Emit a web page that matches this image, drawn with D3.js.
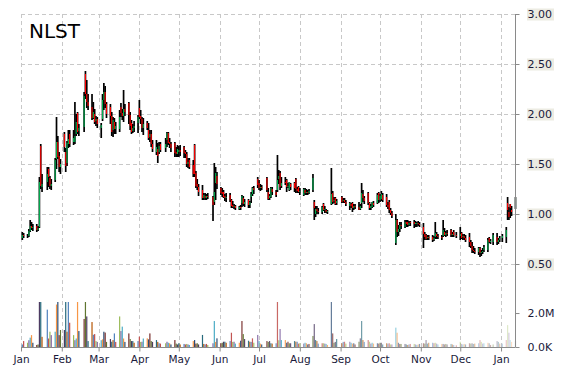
<!DOCTYPE html>
<html><head><meta charset="utf-8">
<script src="https://cdn.jsdelivr.net/npm/d3@7"></script>
<style>html,body{margin:0;padding:0;background:#fff}svg{display:block}</style>
</head><body>
<svg id="chart" width="570" height="370"></svg>
<script>
// ---------------- DATA ----------------
const title = "NLST";
const firstDay = "2014-01-02", lastDay = "2015-01-12";
const holidays = ["2014-01-01","2014-01-20","2014-02-17","2014-04-18","2014-05-26","2014-07-04","2014-09-01","2014-11-27","2014-12-25","2015-01-01"];
const monthLabels = ["Jan","Feb","Mar","Apr","May","Jun","Jul","Aug","Sep","Oct","Nov","Dec","Jan"];
const priceTicks = [0.5, 1.0, 1.5, 2.0, 2.5, 3.0];
const volumeTicks = [0, 2000000];

const opens = [
 .76,.79,.78,.78,.83,.88,.86,.88,.84,.87,1.68,1.27,1.32,1.45,1.36,1.28,1.34,1.55,1.72,1.58,1.47,
 1.80,1.62,1.51,1.70,1.80,1.72,1.72,1.80,2.01,1.83,1.87,2.40,2.20,2.12,2.07,1.96,2.00,1.93,1.95,
 1.86,1.95,2.14,2.22,2.10,2.07,1.98,1.84,1.92,1.85,1.85,2.07,2.01,1.98,2.05,2.11,1.99,1.91,1.83,1.86,1.91,
 2.06,1.98,1.95,1.86,1.91,1.84,1.77,1.80,1.70,1.62,1.65,1.62,1.70,1.66,1.74,1.81,1.72,1.70,1.71,1.62,1.60,
 1.62,1.64,1.67,1.62,1.60,1.50,1.54,1.49,1.69,1.41,1.30,1.27,1.24,1.16,1.18,1.16,1.18,1.17,1.12,1.31,1.38,
 1.26,1.22,1.22,1.18,1.16,1.19,1.14,1.09,1.07,1.08,1.05,1.07,1.11,1.16,1.10,1.14,1.09,1.17,1.20,1.26,1.35,
 1.31,1.26,1.27,1.36,1.22,1.16,1.17,1.25,1.22,1.24,1.35,1.41,1.28,1.32,1.34,1.27,1.24,1.30,1.31,1.35,1.25,1.27,
 1.22,1.19,1.24,1.21,1.22,1.21,1.24,1.12,1.00,1.05,1.03,1.02,1.10,1.04,1.04,1.02,1.10,1.21,1.13,1.16,1.11,
 1.17,1.13,1.14,1.12,1.08,1.10,1.11,1.06,1.08,1.07,1.05,1.11,1.20,1.16,1.21,1.11,1.06,1.07,1.11,1.11,1.21,
 1.14,1.15,1.19,1.17,1.09,1.12,1.04,1.01,.71,.94,.82,.85,.89,.87,.92,.92,.89,.92,.92,.90,.90,.91,.90,
 .87,.80,.79,.76,.77,.77,.74,.77,.80,.78,.77,.78,.82,.79,.81,.84,.79,.82,.79,
 .78,.81,.77,.78,.76,.77,.72,.68,.64,.63,.62,.66,.61,.62,.64,.64,.76,.72,.72,.77,.72,.74,
 .76,.77,1.11,1.02,1.10,1.04,1.06
];
const highs = [
 .82,.81,.80,.85,.94,.92,.90,.90,.88,1.37,1.70,1.40,1.47,1.47,1.38,1.35,1.56,1.97,1.78,1.62,1.55,
 1.82,1.66,1.73,1.84,1.84,1.84,2.12,2.00,2.02,1.90,2.22,2.43,2.34,2.20,2.20,2.12,2.05,1.98,1.97,
 1.91,2.20,2.31,2.28,2.12,2.10,2.02,1.97,1.96,1.92,2.04,2.11,2.05,2.24,2.10,2.12,2.02,1.94,1.90,1.93,1.99,
 2.14,2.04,1.97,1.96,1.93,1.91,1.84,1.84,1.74,1.74,1.71,1.72,1.72,1.76,1.82,1.82,1.76,1.72,1.72,1.67,1.69,
 1.68,1.69,1.68,1.64,1.62,1.56,1.56,1.54,1.70,1.43,1.35,1.30,1.29,1.21,1.21,1.20,1.21,1.18,1.51,1.47,1.42,
 1.27,1.26,1.24,1.20,1.21,1.21,1.15,1.13,1.10,1.09,1.08,1.09,1.19,1.18,1.15,1.15,1.13,1.22,1.27,1.28,1.37,
 1.34,1.30,1.29,1.37,1.26,1.20,1.27,1.27,1.24,1.59,1.44,1.43,1.37,1.37,1.35,1.31,1.32,1.31,1.32,1.36,1.27,1.28,
 1.26,1.26,1.26,1.25,1.24,1.25,1.40,1.14,1.08,1.08,1.06,1.08,1.11,1.08,1.05,1.04,1.46,1.23,1.17,1.17,1.15,
 1.18,1.16,1.16,1.14,1.12,1.11,1.12,1.10,1.10,1.12,1.10,1.31,1.24,1.18,1.22,1.12,1.10,1.12,1.13,1.21,1.22,
 1.20,1.23,1.21,1.20,1.12,1.14,1.06,1.03,1.00,.95,.89,.92,.92,.94,.94,.94,.93,.93,.94,.93,.92,.93,.92,
 .91,.82,.80,.79,.79,.79,.78,.92,.82,.80,.79,.94,.86,.83,.84,.85,.82,.84,.82,
 .87,.82,.80,.80,.79,.81,.74,.72,.68,.66,.67,.67,.64,.66,.69,.76,.77,.75,.81,.81,.76,.78,
 .80,.87,1.17,1.07,1.10,1.08,1.17
];
const lows = [
 .74,.76,.76,.77,.82,.84,.83,.82,.83,.86,1.25,1.22,1.24,1.27,1.25,1.24,1.32,1.45,1.55,1.42,1.40,
 1.62,1.42,1.48,1.66,1.67,1.69,1.70,1.78,1.80,1.78,1.82,2.15,2.06,2.04,1.94,1.95,1.90,1.88,1.86,
 1.76,1.93,2.04,2.06,1.96,1.90,1.78,1.77,1.80,1.80,1.82,1.97,1.94,1.92,1.98,1.90,1.84,1.80,1.81,1.82,1.81,
 1.95,1.90,1.82,1.79,1.84,1.74,1.72,1.67,1.62,1.59,1.51,1.60,1.62,1.62,1.67,1.69,1.66,1.62,1.57,1.57,1.57,
 1.57,1.58,1.56,1.56,1.47,1.46,1.45,1.37,1.37,1.26,1.24,1.18,1.14,1.14,1.14,1.14,1.15,.93,1.09,1.14,1.25,
 1.19,1.17,1.16,1.13,1.12,1.12,1.06,1.06,1.05,1.04,1.04,1.04,1.07,1.08,1.07,1.06,1.06,1.11,1.18,1.20,1.26,
 1.24,1.23,1.24,1.22,1.14,1.14,1.16,1.19,1.17,1.22,1.30,1.24,1.26,1.29,1.22,1.26,1.23,1.24,1.22,1.21,1.21,1.21,
 1.19,1.18,1.19,1.19,1.19,1.20,1.22,.94,.97,1.00,1.00,1.00,1.03,1.01,1.01,1.00,1.09,1.10,1.11,1.09,1.09,
 1.11,1.11,1.11,1.08,1.04,1.06,1.02,1.04,1.05,1.04,1.04,1.06,1.12,1.10,1.09,1.04,1.04,1.06,1.07,1.10,1.11,
 1.12,1.13,1.12,1.07,1.05,1.01,.99,.96,.69,.77,.78,.82,.85,.86,.87,.87,.88,.88,.86,.87,.87,.88,.87,
 .66,.74,.74,.74,.74,.72,.73,.75,.75,.75,.74,.77,.78,.77,.78,.77,.77,.77,.76,
 .74,.75,.74,.74,.72,.67,.66,.61,.61,.60,.59,.57,.58,.60,.62,.62,.71,.70,.69,.69,.70,.72,
 .72,.71,.94,.94,.96,.98,1.05
];
const closes = [
 .79,.78,.78,.83,.88,.86,.87,.84,.86,1.32,1.28,1.30,1.40,1.37,1.28,1.30,1.54,1.72,1.57,1.47,1.50,
 1.67,1.48,1.71,1.75,1.70,1.76,1.78,1.92,1.82,1.86,2.18,2.20,2.12,2.08,1.96,2.02,1.92,1.95,1.90,
 1.89,2.14,2.22,2.10,2.00,1.98,1.82,1.94,1.85,1.88,1.97,2.01,1.98,2.05,2.02,1.99,1.88,1.82,1.86,1.88,1.97,
 1.97,1.95,1.86,1.90,1.86,1.76,1.80,1.70,1.65,1.67,1.58,1.68,1.64,1.70,1.81,1.71,1.70,1.66,1.61,1.60,1.65,
 1.64,1.62,1.61,1.60,1.50,1.52,1.47,1.40,1.40,1.28,1.27,1.22,1.16,1.19,1.16,1.18,1.17,1.09,1.22,1.41,1.30,
 1.21,1.20,1.17,1.16,1.17,1.14,1.08,1.07,1.08,1.06,1.07,1.06,1.18,1.10,1.12,1.09,1.12,1.20,1.26,1.24,1.29,
 1.26,1.27,1.26,1.24,1.15,1.18,1.26,1.22,1.19,1.34,1.38,1.27,1.31,1.31,1.27,1.28,1.32,1.27,1.26,1.25,1.23,1.22,
 1.23,1.25,1.21,1.22,1.21,1.23,1.36,1.06,1.05,1.03,1.02,1.07,1.04,1.05,1.02,1.03,1.20,1.12,1.14,1.10,1.13,
 1.12,1.14,1.12,1.10,1.11,1.08,1.06,1.08,1.07,1.04,1.08,1.21,1.16,1.13,1.11,1.06,1.08,1.12,1.09,1.19,1.14,
 1.18,1.20,1.14,1.09,1.07,1.04,1.01,.98,.94,.82,.85,.89,.88,.92,.90,.89,.91,.91,.90,.91,.91,.90,.89,
 .80,.77,.75,.77,.76,.74,.76,.81,.78,.77,.76,.84,.79,.81,.80,.79,.80,.79,.78,
 .80,.76,.78,.76,.74,.72,.68,.64,.63,.62,.66,.61,.62,.63,.67,.74,.72,.73,.79,.72,.74,.76,
 .78,.84,1.04,.97,1.06,1.02,1.16
];
// volume in millions of shares
const volumesM = [
 .15,.35,.25,.40,.55,.70,.25,.12,.15,3.2,3.0,.60,2.2,.50,.90,.70,.90,2.5,2.9,.70,1.0,
 1.0,3.1,.90,2.8,1.43,.70,.40,.50,3.0,.94,1.65,3.3,1.8,.35,1.47,.72,.76,.35,.30,
 .40,.45,.90,.85,.30,.47,.31,.41,.80,.30,1.8,.94,1.2,.50,.30,.80,.47,.35,.35,.25,.35,
 .61,.30,.31,.50,.51,.45,.80,.35,.30,.41,.30,.22,.20,.22,.31,.25,.22,.15,.41,.20,.15,
 .22,.15,.18,.15,.18,.15,.12,.35,.41,.20,.22,.15,.71,.18,.15,.18,.12,.22,1.53,.30,.51,
 .22,.25,.31,.31,.25,.35,.84,.30,.31,.20,.25,.37,1.53,.76,.47,.37,.31,.30,.51,.25,.71,
 .35,.20,.15,.35,.30,.35,.22,.20,.22,3.0,.40,1.06,.41,.41,.25,.31,.22,.22,.35,.31,.31,.20,
 .22,.20,.25,.22,.15,.18,.65,1.35,.41,.35,.20,.22,.22,.20,.18,.12,3.0,.80,.25,.30,.47,
 .22,.30,.31,.20,.31,.25,.20,.22,.15,.31,.51,1.53,.41,.30,.41,.31,.20,.25,.20,.22,.20,
 .25,.25,.15,.22,.20,.22,.15,.15,1.14,.84,.25,.18,.18,.18,.15,.12,.15,.18,.18,.15,.12,.15,.18,
 .22,.20,.41,.20,.25,.25,.22,.25,.20,.15,.18,.18,.15,.18,.15,.18,.15,.12,.10,
 .31,.18,.15,.18,.15,.22,.20,.22,.18,.20,.22,.41,.30,.20,.22,.25,.22,.12,.15,.35,.30,.20,
 .20,.41,1.29,.84,.41,.30,.35
];

// ---------------- CHART ----------------
const svg = d3.select("#chart");
const pL = 21, pR = 515.5, pT = 14, volBase = 347;
const parse = d3.utcParse("%Y-%m-%d");
const holidaySet = new Set(holidays);
const fmtDay = d3.utcFormat("%Y-%m-%d");
const days = d3.utcDays(parse(firstDay), d3.utcDay.offset(parse(lastDay), 1))
  .filter(d => d.getUTCDay() !== 0 && d.getUTCDay() !== 6 && !holidaySet.has(fmtDay(d)));
const data = days.map((d, i) => ({date: d, o: opens[i], h: highs[i], l: lows[i], c: closes[i], v: volumesM[i] * 1e6}));

const x = d3.scaleUtc().domain([parse("2014-01-01"), parse("2015-01-12")]).range([pL, pR]);
const y = d3.scaleLinear().domain([0, 3]).range([314, pT]);
const yv = d3.scaleLinear().domain([0, 2650000]).range([volBase, 302]).clamp(true);

const gridColor = "#c8c8c8";
const monthStarts = d3.utcMonth.range(parse("2014-01-01"), parse("2015-01-12"));

// grid
const grid = svg.append("g");
grid.selectAll("line.h").data(priceTicks).join("line")
  .attr("x1", pL).attr("x2", pR).attr("y1", d => Math.round(y(d)) + 0.5).attr("y2", d => Math.round(y(d)) + 0.5)
  .attr("stroke", gridColor).attr("stroke-dasharray", "4,3");
grid.selectAll("line.v").data(monthStarts).join("line")
  .attr("x1", d => Math.round(x(d)) + 0.5).attr("x2", d => Math.round(x(d)) + 0.5)
  .attr("y1", pT).attr("y2", volBase)
  .attr("stroke", gridColor).attr("stroke-dasharray", "4,3");

// title
svg.append("text").attr("x", 29).attr("y", 38).text(title)
  .attr("font-family", "DejaVu Sans, Verdana, sans-serif").attr("font-size", 20).attr("fill", "#000");

// volume bars
const palette = ["#4f81bd","#c0504d","#9bbb59","#8064a2","#4bacc6","#f79646","#2c4d75","#772c2a","#5f7530","#4d3b62","#276a7c","#b65708"];
const fade = d3.scaleUtc().domain([parse("2014-06-01"), parse("2015-01-12")]).range([1, 0.3]).clamp(true);
svg.append("g").selectAll("rect").data(data).join("rect")
  .attr("x", d => x(d.date) - 0.6).attr("width", 1.2)
  .attr("y", d => yv(d.v)).attr("height", d => volBase - yv(d.v))
  .attr("fill", (d, i) => palette[i % palette.length])
  .attr("fill-opacity", d => fade(d.date));

// candles
const cg = svg.append("g");
cg.selectAll("line").data(data).join("line")
  .attr("x1", d => x(d.date)).attr("x2", d => x(d.date))
  .attr("y1", d => y(d.h)).attr("y2", d => y(d.l))
  .attr("stroke", "#000").attr("stroke-width", 1.7);
cg.selectAll("rect").data(data.filter(d => d.o !== d.c)).join("rect")
  .attr("x", d => x(d.date) - 0.55).attr("width", 1.1)
  .attr("y", d => y(Math.max(d.o, d.c))).attr("height", d => Math.max(1, Math.abs(y(d.o) - y(d.c))))
  .attr("fill", d => d.c > d.o ? "#00b050" : "#ff0000");

// axes
const axisColor = "#8a8a8a", labelColor = "#1a1a3a";
const font = "DejaVu Sans, Verdana, sans-serif";

const xAxis = svg.append("g").attr("transform", `translate(0,${volBase + 0.5})`)
  .call(d3.axisBottom(x).tickValues(monthStarts).tickSize(4).tickSizeOuter(0).tickFormat((d, i) => monthLabels[i]));
xAxis.select(".domain").attr("stroke", axisColor).attr("d", `M${pL},0H${pR}`);
xAxis.selectAll(".tick line").attr("stroke", axisColor);
xAxis.selectAll(".tick text").attr("fill", labelColor).attr("font-family", font).attr("font-size", 10.5).attr("dy", "0.85em");

const yAxis = svg.append("g").attr("transform", `translate(${pR},0)`)
  .call(d3.axisRight(y).tickValues(priceTicks).tickSize(4).tickSizeOuter(0).tickFormat(d3.format(".2f")));
yAxis.select(".domain").attr("stroke", axisColor).attr("d", `M0,${pT}V${volBase}`);
yAxis.selectAll(".tick line").attr("stroke", axisColor);
yAxis.selectAll(".tick text").attr("fill", labelColor).attr("font-family", font).attr("font-size", 11).attr("x", 12);
yAxis.selectAll(".tick").insert("rect", "text")
  .attr("x", 11.5).attr("y", -6).attr("width", 27).attr("height", 12).attr("fill", "#ecebe2");

const vAxis = svg.append("g").attr("transform", `translate(${pR},0)`)
  .call(d3.axisRight(yv).tickValues(volumeTicks).tickSize(4).tickSizeOuter(0)
    .tickFormat(d => d === 0 ? "0.0K" : (d / 1e6).toFixed(1) + "M"));
vAxis.select(".domain").remove();
vAxis.selectAll(".tick line").attr("stroke", axisColor);
vAxis.selectAll(".tick text").attr("fill", labelColor).attr("font-family", font).attr("font-size", 11).attr("x", 12);
</script>
</body></html>
